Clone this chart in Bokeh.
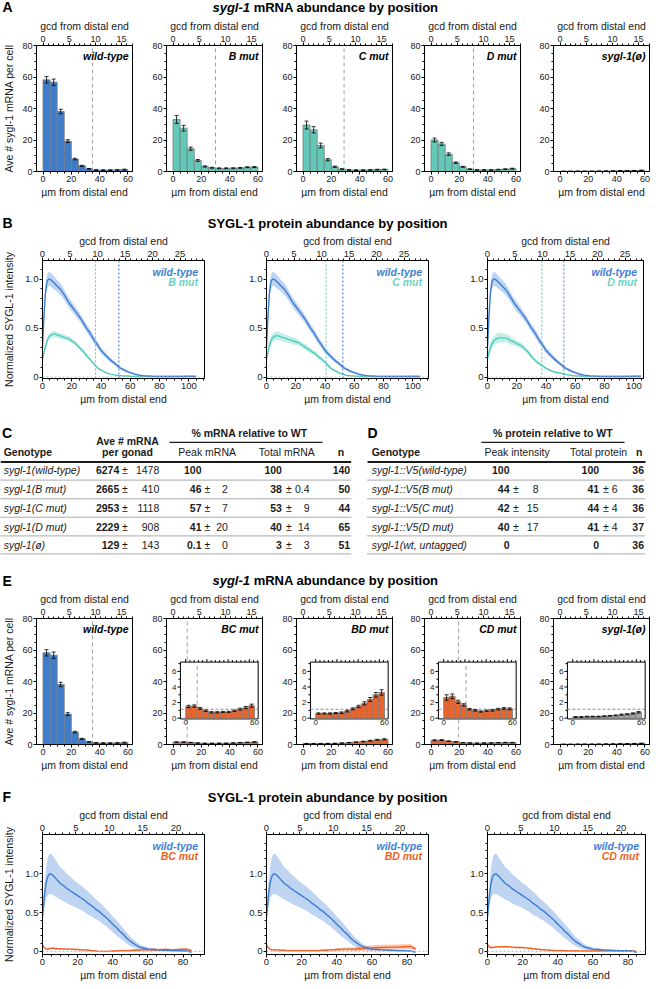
import math
from bokeh.plotting import figure
from bokeh.models import Range1d, LinearAxis, FixedTicker, Label, Span
from bokeh.layouts import column, row
from bokeh.embed import file_html
from bokeh.resources import INLINE
from bokeh.core.properties import value

FONT = "Liberation Sans"
INK = "#1a1a1a"

# ============================ DATA ============================
# Panels A / E : average sygl-1 mRNA per cell in 5-um bins
bin_um = [2.5, 7.5, 12.5, 17.5, 22.5, 27.5, 32.5, 37.5, 42.5, 47.5, 52.5, 57.5]
mrna_wt = [58.2, 56.7, 38.1, 19.3, 7.9, 3.6, 1.7, 1.0, 0.9, 0.9, 1.0, 1.2]
mrna_wt_err = [2.0, 2.0, 1.4, 0.9, 0.5, 0.3, 0.2, 0.2, 0.2, 0.2, 0.2, 0.3]
mrna_B = [33.0, 27.5, 14.5, 7.0, 3.2, 2.4, 2.0, 2.0, 2.1, 2.3, 2.7, 2.8]
mrna_B_err = [2.5, 1.8, 1.0, 0.6, 0.4, 0.3, 0.3, 0.3, 0.3, 0.3, 0.3, 0.3]
mrna_C = [29.5, 26.5, 16.5, 7.5, 3.0, 1.5, 1.0, 0.9, 0.9, 1.0, 1.2, 1.3]
mrna_C_err = [2.5, 2.0, 1.5, 0.7, 0.4, 0.3, 0.2, 0.2, 0.2, 0.2, 0.2, 0.2]
mrna_D = [20.0, 17.5, 11.0, 5.6, 3.0, 1.5, 1.0, 1.0, 1.0, 1.2, 1.5, 1.8]
mrna_D_err = [1.2, 1.0, 0.8, 0.5, 0.3, 0.2, 0.2, 0.2, 0.2, 0.2, 0.2, 0.3]
mrna_null = [0.15, 0.15, 0.2, 0.2, 0.2, 0.25, 0.3, 0.35, 0.45, 0.5, 0.6, 0.75]
mrna_null_err = [0.05, 0.05, 0.05, 0.05, 0.05, 0.05, 0.05, 0.06, 0.07, 0.07, 0.08, 0.1]
mrna_BC = [1.5, 1.55, 1.25, 0.95, 0.75, 0.75, 0.8, 0.8, 0.95, 1.15, 1.35, 1.6]
mrna_BC_err = [0.15, 0.15, 0.12, 0.1, 0.08, 0.08, 0.08, 0.08, 0.1, 0.12, 0.15, 0.2]
mrna_BD = [0.6, 0.6, 0.6, 0.65, 0.7, 0.9, 1.2, 1.5, 1.9, 2.4, 3.0, 3.3]
mrna_BD_err = [0.08, 0.08, 0.08, 0.08, 0.1, 0.1, 0.12, 0.15, 0.2, 0.25, 0.3, 0.35]
mrna_CD = [2.65, 2.8, 2.1, 1.7, 1.15, 1.0, 0.85, 0.95, 1.0, 1.15, 1.25, 1.2]
mrna_CD_err = [0.35, 0.3, 0.2, 0.15, 0.1, 0.1, 0.08, 0.08, 0.1, 0.1, 0.12, 0.12]

a_tags = ["wild-type", "B mut", "C mut", "D mut", "sygl-1(\u00f8)"]
a_boundary = [35.0, 30.0, 29.0, 30.0, None]
e_tags = ["wild-type", "BC mut", "BD mut", "CD mut", "sygl-1(\u00f8)"]
e_boundary = [35.0, 10.0, None, 19.5, None]
inset_level = 1.15

count_ticks = [0, 20, 40, 60, 80]
um_ticks_A = [0, 20, 40, 60]
gcd_ticks_A = [0, 5, 10, 15]
inset_yticks = [0, 2, 4, 6]
inset_xlabels = [0, 60]

# Panel B : SYGL-1 protein, normalized intensity
prot_x_B = [0, 1, 2, 3, 4, 5, 6, 8, 10, 12, 14, 16, 18, 20, 22, 24, 26, 28, 30, 32, 34, 36,
            38, 40, 42, 44, 46, 48, 50, 52, 54, 56, 58, 60, 63, 66, 70, 75, 80, 85, 90, 95, 100, 105]
prot_wt_B = [0.30, 0.62, 0.86, 0.97, 1.00, 1.00, 0.99,
             0.96, 0.93, 0.90, 0.86, 0.81, 0.76, 0.72, 0.68, 0.64, 0.60,
             0.55, 0.50, 0.46, 0.41, 0.36, 0.32, 0.27, 0.24, 0.21, 0.18,
             0.155, 0.13, 0.105, 0.085, 0.07, 0.055, 0.045,
             0.03, 0.02, 0.012, 0.008, 0.006, 0.005, 0.005, 0.006, 0.007, 0.005]
prot_wt_B_sd = [0.05, 0.06, 0.07, 0.07, 0.07, 0.07, 0.07,
                0.065, 0.06, 0.06, 0.055, 0.05, 0.05, 0.05, 0.045, 0.045, 0.04,
                0.04, 0.04, 0.04, 0.04, 0.035, 0.035, 0.03, 0.03, 0.025, 0.025,
                0.02, 0.02, 0.02, 0.015, 0.015, 0.012, 0.01,
                0.008, 0.006, 0.005, 0.004, 0.004, 0.004, 0.004, 0.005, 0.006, 0.005]
prot_Bmut = [0.18, 0.25, 0.31, 0.36, 0.40, 0.42, 0.43,
             0.44, 0.43, 0.42, 0.41, 0.40, 0.39, 0.37, 0.35, 0.32, 0.29,
             0.26, 0.22, 0.19, 0.15, 0.12, 0.09, 0.07, 0.055, 0.04, 0.03,
             0.025, 0.02, 0.015, 0.012, 0.01, 0.01, 0.008,
             0.007, 0.006, 0.005, 0.005, 0.005, 0.005, 0.005, 0.006, 0.008, 0.007]
prot_Bmut_sd = [0.02, 0.025, 0.03, 0.03, 0.03, 0.03, 0.03,
                0.03, 0.03, 0.03, 0.03, 0.025, 0.025, 0.025, 0.02, 0.02, 0.02,
                0.02, 0.02, 0.015, 0.015, 0.012, 0.01, 0.01, 0.008, 0.006, 0.005,
                0.005, 0.004, 0.004, 0.004, 0.004, 0.004, 0.004,
                0.004, 0.004, 0.004, 0.004, 0.004, 0.004, 0.005, 0.005, 0.006, 0.006]
prot_Cmut = [0.18, 0.26, 0.32, 0.37, 0.40, 0.41, 0.42,
             0.42, 0.41, 0.40, 0.39, 0.38, 0.37, 0.36, 0.35, 0.33, 0.31,
             0.29, 0.27, 0.25, 0.23, 0.20, 0.18, 0.15, 0.12, 0.09, 0.07,
             0.055, 0.04, 0.03, 0.02, 0.015, 0.012, 0.01,
             0.008, 0.006, 0.005, 0.005, 0.005, 0.005, 0.005, 0.006, 0.007, 0.006]
prot_Cmut_sd = [0.03, 0.035, 0.04, 0.045, 0.045, 0.045, 0.045,
                0.045, 0.04, 0.04, 0.04, 0.035, 0.035, 0.035, 0.03, 0.03, 0.03,
                0.03, 0.03, 0.025, 0.025, 0.02, 0.02, 0.02, 0.015, 0.015, 0.01,
                0.01, 0.008, 0.006, 0.005, 0.005, 0.005, 0.005,
                0.004, 0.004, 0.004, 0.004, 0.004, 0.004, 0.005, 0.005, 0.006, 0.006]
prot_Dmut = [0.19, 0.25, 0.30, 0.34, 0.36, 0.38, 0.39,
             0.40, 0.40, 0.40, 0.39, 0.37, 0.36, 0.34, 0.33, 0.31, 0.28,
             0.25, 0.21, 0.18, 0.15, 0.13, 0.11, 0.09, 0.075, 0.06, 0.05,
             0.045, 0.04, 0.03, 0.025, 0.02, 0.015, 0.012,
             0.01, 0.008, 0.006, 0.005, 0.005, 0.005, 0.005, 0.006, 0.008, 0.008]
prot_Dmut_sd = [0.03, 0.04, 0.05, 0.05, 0.05, 0.05, 0.05,
                0.05, 0.05, 0.045, 0.04, 0.04, 0.035, 0.03, 0.03, 0.03, 0.025,
                0.025, 0.02, 0.02, 0.02, 0.015, 0.015, 0.012, 0.01, 0.01, 0.008,
                0.008, 0.006, 0.006, 0.005, 0.005, 0.005, 0.005,
                0.005, 0.005, 0.005, 0.005, 0.005, 0.005, 0.005, 0.006, 0.006, 0.006]
b_mut_names = ["B mut", "C mut", "D mut"]
b_wt_boundary = 52.2
b_mut_boundary = [36.2, 40.7, 37.1]

# Panel F : SYGL-1 protein, double mutants
prot_x_F = [0, 1, 2, 3, 4, 5, 6, 8, 10, 12, 14, 16, 18, 20, 22, 24, 26, 28, 30, 32, 34, 36,
            38, 40, 42, 44, 46, 48, 50, 52, 54, 56, 58, 60, 63, 66, 70, 74, 78, 82, 85]
prot_wt_F = [0.45, 0.70, 0.88, 0.97, 1.00, 1.00, 0.98,
             0.93, 0.88, 0.85, 0.81, 0.78, 0.75, 0.72, 0.69, 0.66, 0.62,
             0.59, 0.55, 0.52, 0.48, 0.44, 0.40, 0.35, 0.31, 0.26, 0.22,
             0.17, 0.13, 0.10, 0.07, 0.05, 0.04, 0.03,
             0.025, 0.02, 0.015, 0.01, 0.008, 0.005, -0.01]
prot_wt_F_sd = [0.08, 0.15, 0.20, 0.24, 0.26, 0.26, 0.25,
                0.23, 0.21, 0.20, 0.19, 0.18, 0.17, 0.16, 0.16, 0.15, 0.15,
                0.14, 0.13, 0.12, 0.12, 0.11, 0.11, 0.10, 0.10, 0.09, 0.08,
                0.07, 0.06, 0.05, 0.04, 0.03, 0.025, 0.02,
                0.015, 0.012, 0.01, 0.01, 0.01, 0.01, 0.01]
prot_BC = [0.08, 0.05, 0.03, 0.03, 0.035, 0.04, 0.04,
           0.035, 0.035, 0.03, 0.03, 0.03, 0.025, 0.025, 0.02, 0.02, 0.015,
           0.01, 0.005, 0.0, 0.0, 0.0, 0.0, 0.005, 0.005, 0.01, 0.01,
           0.01, 0.01, 0.015, 0.015, 0.02, 0.02, 0.02,
           0.025, 0.02, 0.025, 0.02, 0.025, 0.03, 0.01]
prot_BC_sd = [0.01, 0.01, 0.01, 0.01, 0.01, 0.01, 0.01,
              0.01, 0.01, 0.01, 0.01, 0.01, 0.01, 0.01, 0.01, 0.01, 0.01,
              0.01, 0.01, 0.01, 0.01, 0.01, 0.01, 0.01, 0.01, 0.01, 0.01,
              0.012, 0.012, 0.012, 0.012, 0.015, 0.015, 0.015,
              0.015, 0.015, 0.015, 0.015, 0.015, 0.015, 0.01]
prot_BD = [0.08, 0.05, 0.03, 0.02, 0.02, 0.02, 0.02,
           0.015, 0.015, 0.01, 0.01, 0.01, 0.01, 0.01, 0.01, 0.01, 0.01,
           0.01, 0.01, 0.015, 0.015, 0.02, 0.02, 0.025, 0.025, 0.03, 0.03,
           0.03, 0.03, 0.035, 0.035, 0.04, 0.04, 0.045,
           0.05, 0.05, 0.055, 0.055, 0.06, 0.065, 0.03]
prot_BD_sd = [0.01, 0.01, 0.01, 0.01, 0.01, 0.01, 0.01,
              0.01, 0.01, 0.01, 0.01, 0.01, 0.01, 0.01, 0.01, 0.01, 0.01,
              0.01, 0.012, 0.012, 0.015, 0.015, 0.015, 0.02, 0.02, 0.02, 0.02,
              0.025, 0.025, 0.03, 0.03, 0.03, 0.035, 0.035,
              0.035, 0.035, 0.035, 0.035, 0.035, 0.035, 0.02]
prot_CD = [0.09, 0.06, 0.05, 0.05, 0.055, 0.06, 0.06,
           0.06, 0.06, 0.06, 0.055, 0.05, 0.05, 0.05, 0.045, 0.04, 0.035,
           0.03, 0.025, 0.02, 0.02, 0.015, 0.012, 0.01, 0.01, 0.008, 0.006,
           0.005, 0.005, 0.005, 0.005, 0.005, 0.005, 0.005,
           0.005, 0.005, 0.005, 0.005, 0.005, 0.005, 0.0]
prot_CD_sd = [0.01, 0.01, 0.01, 0.01, 0.01, 0.01, 0.01,
              0.01, 0.01, 0.01, 0.01, 0.01, 0.01, 0.01, 0.01, 0.01, 0.01,
              0.01, 0.01, 0.01, 0.01, 0.01, 0.01, 0.01, 0.01, 0.01, 0.01,
              0.01, 0.01, 0.01, 0.01, 0.01, 0.01, 0.01,
              0.01, 0.01, 0.01, 0.01, 0.01, 0.01, 0.01]
f_mut_names = ["BC mut", "BD mut", "CD mut"]

prot_yticks = [0, 0.5, 1.0]
prot_ylabels = {0: "0", 0.5: "0.5", 1: "1.0"}

# Tables C and D
genotypes_C = ["sygl-1(wild-type)", "sygl-1(B mut)", "sygl-1(C mut)", "sygl-1(D mut)", "sygl-1(\u00f8)"]
mrna_per_gonad = ["6274", "2665", "2953", "2229", "129"]
mrna_per_gonad_sd = ["1478", "410", "1118", "908", "143"]
peak_mrna = ["100", "46", "57", "41", "0.1"]
peak_mrna_sd = [None, "2", "7", "20", "0"]
total_mrna = ["100", "38", "53", "40", "3"]
total_mrna_sd = [None, "0.4", "9", "14", "3"]
n_C = ["140", "50", "44", "65", "51"]

genotypes_D = ["sygl-1::V5(wild-type)", "sygl-1::V5(B mut)", "sygl-1::V5(C mut)",
               "sygl-1::V5(D mut)", "sygl-1(wt, untagged)"]
peak_int = ["100", "44", "42", "40", "0"]
peak_int_sd = [None, "8", "15", "17", None]
total_prot = ["100", "41", "44", "41", "0"]
total_prot_sd = [None, "6", "4", "4", None]
n_D = ["36", "36", "36", "37", "36"]

# ============================ STYLE ============================
WT_BAR = "#3F7DCA"
MUT_BAR = "#62C9B9"
DBL_BAR = "#E9632B"
NULL_BAR = "#A6A6A6"
BAR_EDGE = "#7C7C7C"
WT_LINE = "#3B7BD4"
MUT_LINE = "#4FCBB9"
ORG_LINE = "#EE6228"
WT_TXT = "#3F80D8"
MUT_TXT = "#6CD3C5"

BOLD_W = {' ': 278, 's': 556, 'y': 556, 'g': 611, 'l': 278, '-': 333, '1': 556, 'm': 889,
          'R': 722, 'N': 722, 'A': 722, 'a': 556, 'b': 611, 'u': 611, 'n': 611, 'd': 611,
          'c': 556, 'e': 556, 'p': 611, 'o': 611, 'i': 278, 't': 333}


def tw_bold(s):
    return sum(BOLD_W.get(c, 556) for c in s) / 1000.0


# ============================ LAYOUT ============================
PAGE_W = 650
TITLE_CX = 325
XA = (-4.6, 63.2)
YA = (0, 80)
GCD_A = 3.7
A_FW = 96
A_L = [34, 32, 32, 30, 31]
A_R = [2, 2, 2, 2, 3]
B_FW = [162, 162, 156]
B_L = [40, 60, 57]
B_R = [2, 2, 9]
B_XR = [(0, 110.7), (0, 110.7), (0, 106.6)]
B_YR = (-0.015, 1.19)
GCD_B = 3.76
F_FW = [162, 162, 158]
F_L = [40, 60, 57]
F_R = [2, 2, 7]
F_XR = [(0, 92.2), (0, 92.2), (0, 89.9)]
F_YR = (-0.04, 1.51)
GCD_F = 3.8

IN_L, IN_R, IN_B, IN_T = 0.145, 0.955, 0.203, 0.654
IN_X = (-4.6, 63.2)
IN_Y = (-0.1, 7.2)
_sx = (IN_X[1] - IN_X[0]) / (IN_R - IN_L)
IX = (IN_X[0] - IN_L * _sx, IN_X[0] - IN_L * _sx + _sx)
_sy = (IN_Y[1] - IN_Y[0]) / (IN_T - IN_B)
IY = (IN_Y[0] - IN_B * _sy, IN_Y[0] - IN_B * _sy + _sy)


def style_axes(p, tick_fs):
    for ax in list(p.below) + list(p.above) + list(p.left):
        ax.axis_line_color = "black"
        ax.axis_line_width = 1
        ax.major_tick_line_color = "black"
        ax.minor_tick_line_color = "black"
        ax.major_tick_in = 0
        ax.major_tick_out = 3
        ax.minor_tick_in = 0
        ax.minor_tick_out = 2
        ax.major_label_text_font = FONT
        ax.major_label_text_font_size = tick_fs
        ax.major_label_text_color = INK
        ax.major_label_standoff = 1
        ax.axis_label_text_font = FONT
        ax.axis_label_text_font_size = "10.5px"
        ax.axis_label_text_font_style = "normal"
        ax.axis_label_text_color = INK
        ax.axis_label_standoff = 1


def base_fig(fw, fh, L, R, top, bot, xr, yr):
    p = figure(frame_width=fw, frame_height=fh, min_border_left=L, min_border_right=R,
               min_border_top=top, min_border_bottom=bot,
               x_range=Range1d(*xr), y_range=Range1d(*yr),
               toolbar_location=None, output_backend="svg")
    p.grid.visible = False
    p.outline_line_color = "black"
    p.outline_line_width = 1
    p.background_fill_color = "white"
    p.border_fill_color = "white"
    return p


def frame_label(p, xr, yr, fw, fh, dx, dy, text, color, size="10.5px"):
    sx = fw / (xr[1] - xr[0])
    sy = fh / (yr[1] - yr[0])
    p.add_layout(Label(x=xr[1] - dx / sx, y=yr[1] - dy / sy, text=text, text_align="right",
                       text_baseline="middle", text_font=FONT, text_font_size=size,
                       text_font_style="bold italic", text_color=color))


def draw_bars(p, vals, errs, fill, **kw):
    p.vbar(x=bin_um, width=5, top=vals, bottom=0, fill_color=fill, line_color=BAR_EDGE,
           line_width=0.8, **kw)
    lo = [v - e for v, e in zip(vals, errs)]
    hi = [v + e for v, e in zip(vals, errs)]
    p.segment(x0=bin_um, x1=bin_um, y0=lo, y1=hi, line_color="black", line_width=0.8, **kw)
    p.scatter(x=bin_um + bin_um, y=lo + hi, marker="dash", size=4, line_color="black",
              line_width=0.8, **kw)


def add_inset(p, vals, errs, fill, boundary, fh):
    p.extra_x_ranges["ix"] = Range1d(*IX)
    p.extra_y_ranges = {"iy": Range1d(*IY)}
    kw = dict(x_range_name="ix", y_range_name="iy")
    sx = A_FW / (IX[1] - IX[0])
    sy = fh / (IY[1] - IY[0])
    p.quad(left=[IN_X[0]], right=[IN_X[1]], bottom=[IN_Y[0]], top=[IN_Y[1]],
           fill_color="white", line_color="black", line_width=1, **kw)
    p.segment(x0=[IN_X[0]], x1=[IN_X[1]], y0=[inset_level], y1=[inset_level],
              line_color="#8c8c8c", line_dash="3 2", line_width=1, **kw)
    if boundary is not None:
        p.segment(x0=[boundary], x1=[boundary], y0=[IN_Y[0]], y1=[IN_Y[1]],
                  line_color="#a0a0a0", line_dash="4 3", line_width=1, **kw)
    draw_bars(p, vals, errs, fill, **kw)
    p.segment(x0=[IN_X[0]] * len(inset_yticks), x1=[IN_X[0] - 3 / sx] * len(inset_yticks),
              y0=inset_yticks, y1=inset_yticks, line_color="black", line_width=1, **kw)
    minor = [t + 1 for t in inset_yticks]
    p.segment(x0=[IN_X[0]] * len(minor), x1=[IN_X[0] - 2 / sx] * len(minor),
              y0=minor, y1=minor, line_color="black", line_width=1, **kw)
    p.text(x=[IN_X[0] - 4 / sx] * len(inset_yticks), y=inset_yticks,
           text=[str(t) for t in inset_yticks], text_align="right", text_baseline="middle",
           text_font=value(FONT), text_font_size="8px", text_color=INK, **kw)
    p.text(x=inset_xlabels, y=[IN_Y[0] - 1.5 / sy] * len(inset_xlabels),
           text=[str(t) for t in inset_xlabels], text_align="center", text_baseline="top",
           text_font=value(FONT), text_font_size="8px", text_color=INK, **kw)
    gx, gy0, gy1 = [], [], []
    for g in range(0, 18):
        xv = g * GCD_A
        if xv > IN_X[1]:
            break
        gx.append(xv)
        gy0.append(IN_Y[1])
        gy1.append(IN_Y[1] + (3 if g % 5 == 0 else 2) / sy)
    p.segment(x0=gx, x1=gx, y0=gy0, y1=gy1, line_color="black", line_width=1, **kw)


def bar_panel(i, vals, errs, fill, tag, boundary, top_b, fh, bot_b, inset=None):
    p = base_fig(A_FW, fh, A_L[i], A_R[i], top_b, bot_b, XA, YA)
    p.extra_x_ranges = {"gcd": Range1d(XA[0] / GCD_A, XA[1] / GCD_A)}
    p.add_layout(LinearAxis(x_range_name="gcd", axis_label="gcd from distal end",
                            ticker=FixedTicker(ticks=gcd_ticks_A, minor_ticks=list(range(0, 18)))),
                 "above")
    bx = p.below[0]
    bx.ticker = FixedTicker(ticks=um_ticks_A, minor_ticks=list(range(0, 65, 5)))
    bx.axis_label = "\u00b5m from distal end"
    ly = p.left[0]
    ly.ticker = FixedTicker(ticks=count_ticks, minor_ticks=list(range(0, 85, 5)))
    style_axes(p, "9px")
    if i == 0:
        ly.axis_label = "Ave # sygl-1 mRNA per cell"
        ly.axis_label_standoff = 4
    if boundary is not None:
        p.segment(x0=[boundary], x1=[boundary], y0=[YA[0]], y1=[YA[1]],
                  line_color="#a0a0a0", line_dash="4 3", line_width=1)
    draw_bars(p, vals, errs, fill)
    frame_label(p, XA, YA, A_FW, fh, 4, 10, tag, "black")
    if inset is not None:
        add_inset(p, inset[0], inset[1], inset[2], boundary, fh)
    return p


def prot_panel(i, x, curves, names, colors_txt, xr, yr, gcd_f, fws, Ls, Rs, top_b, fh, bot_b,
               xticks, gticks, yminor_top, bounds):
    fw = fws[i]
    p = base_fig(fw, fh, Ls[i], Rs[i], top_b, bot_b, xr, yr)
    p.extra_x_ranges = {"gcd": Range1d(xr[0] / gcd_f, xr[1] / gcd_f)}
    p.add_layout(LinearAxis(x_range_name="gcd", axis_label="gcd from distal end",
                            ticker=FixedTicker(ticks=gticks,
                                               minor_ticks=list(range(0, int(xr[1] / gcd_f) + 1)))),
                 "above")
    bx = p.below[0]
    bx.ticker = FixedTicker(ticks=xticks, minor_ticks=list(range(0, int(xr[1]) + 1, 5)))
    bx.axis_label = "\u00b5m from distal end"
    ly = p.left[0]
    ly.ticker = FixedTicker(ticks=prot_yticks,
                            minor_ticks=[round(0.1 * k, 1) for k in range(0, yminor_top + 1)])
    ly.major_label_overrides = prot_ylabels
    style_axes(p, "9.5px")
    if i == 0:
        ly.axis_label = "Normalized SYGL-1 intensity"
        ly.axis_label_standoff = 7
    p.add_layout(Span(location=0, dimension="width", line_color="#bdbdbd", line_dash="2 2",
                      line_width=1))
    for loc, col in bounds:
        p.add_layout(Span(location=loc, dimension="height", line_color=col, line_dash="2 2",
                          line_width=1))
    for m, sd, lc in curves:
        p.varea(x=x, y1=[a - b for a, b in zip(m, sd)], y2=[a + b for a, b in zip(m, sd)],
                fill_color=lc, fill_alpha=0.33)
    for m, sd, lc in reversed(curves):
        p.line(x=x, y=m, line_color=lc, line_width=1.4)
    frame_label(p, xr, yr, fw, fh, 6.5, 11, names[0], colors_txt[0])
    frame_label(p, xr, yr, fw, fh, 6.5, 21.5, names[1], colors_txt[1])
    return p


def header(h, letter, y_mid, parts):
    p = figure(width=PAGE_W, height=h, x_range=Range1d(0, PAGE_W), y_range=Range1d(h, 0),
               x_axis_type=None, y_axis_type=None, toolbar_location=None,
               output_backend="svg", min_border=0)
    p.outline_line_color = None
    p.text(x=[2], y=[y_mid], text=[letter], text_font=value(FONT), text_font_size="14px",
           text_font_style="bold", text_baseline="middle", text_align="left", text_color="black")
    fs = 13
    widths = [tw_bold(t) * fs for t, st in parts]
    gap = 0.278 * fs
    total = sum(widths) + gap * (len(parts) - 1)
    x = TITLE_CX - total / 2
    for (t, st), w in zip(parts, widths):
        p.text(x=[x], y=[y_mid], text=[t], text_font=value(FONT), text_font_size=f"{fs}px",
               text_font_style=st, text_baseline="middle", text_align="left", text_color="black")
        x += w + gap
    return p


# ---------------- panel A ----------------
a_data = [(mrna_wt, mrna_wt_err, WT_BAR), (mrna_B, mrna_B_err, MUT_BAR),
          (mrna_C, mrna_C_err, MUT_BAR), (mrna_D, mrna_D_err, MUT_BAR),
          (mrna_null, mrna_null_err, NULL_BAR)]
a_figs = [bar_panel(i, v, e, c, a_tags[i], a_boundary[i], 28, 126, 27)
          for i, (v, e, c) in enumerate(a_data)]

# ---------------- panel B ----------------
b_mut = [(prot_Bmut, prot_Bmut_sd), (prot_Cmut, prot_Cmut_sd), (prot_Dmut, prot_Dmut_sd)]
b_figs = []
for i, (m, sd) in enumerate(b_mut):
    b_figs.append(prot_panel(i, prot_x_B, [(prot_wt_B, prot_wt_B_sd, WT_LINE), (m, sd, MUT_LINE)],
                             ["wild-type", b_mut_names[i]], [WT_TXT, MUT_TXT], B_XR[i], B_YR, GCD_B,
                             B_FW, B_L, B_R, 28, 118, 29, [0, 20, 40, 60, 80, 100],
                             [0, 5, 10, 15, 20, 25], 11,
                             [(b_mut_boundary[i], MUT_LINE), (b_wt_boundary, WT_LINE)]))

# ---------------- tables C / D ----------------
T_H = 149
T_FS = 10.5
tab = figure(width=PAGE_W, height=T_H, x_range=Range1d(0, PAGE_W), y_range=Range1d(T_H, 0),
             x_axis_type=None, y_axis_type=None, toolbar_location=None, output_backend="svg",
             min_border=0)
tab.outline_line_color = None
ROW_Y = [62.7, 81.8, 100.5, 119.2, 137.5]
SEP_Y = [72.6, 91.3, 109.7, 128.4, 146.4]


def ttext(xs, ys, texts, align, style, size=T_FS, color=INK):
    tab.text(x=xs, y=ys, text=texts, text_align=align, text_baseline="middle",
             text_font=value(FONT), text_font_size=f"{size}px", text_font_style=style,
             text_color=color)


def value_col(means, sds, x_mean, x_pm, x_sd):
    ttext([x_mean] * len(means), ROW_Y, means, "right", "bold")
    ys = [y for y, s in zip(ROW_Y, sds) if s is not None]
    ss = [s for s in sds if s is not None]
    ttext([x_pm] * len(ys), ys, ["\u00b1"] * len(ys), "center", "normal")
    ttext([x_sd] * len(ys), ys, ss, "right", "normal")


# table C
ttext([1.5], [25], ["C"], "left", "bold", 14, "black")
ttext([249], [25.6], ["% mRNA relative to WT"], "center", "bold")
tab.segment(x0=[169], x1=[322], y0=[34.9], y1=[34.9], line_color=INK, line_width=1.2)
ttext([127], [33.9], ["Ave # mRNA"], "center", "bold")
ttext([127], [44.7], ["per gonad"], "center", "bold")
ttext([3.2], [44.7], ["Genotype"], "left", "bold")
ttext([206.6, 286.3], [44.7, 44.7], ["Peak mRNA", "Total mRNA"], "center", "normal")
ttext([340.5], [44.7], ["n"], "center", "bold")
tab.segment(x0=[0], x1=[350.7], y0=[54.6], y1=[54.6], line_color=INK, line_width=2)
tab.segment(x0=[0] * 5, x1=[350.7] * 5, y0=SEP_Y, y1=SEP_Y, line_color="#555555",
            line_dash="1 1", line_width=1)
ttext([3.2] * 5, ROW_Y, genotypes_C, "left", "italic")
value_col(mrna_per_gonad, mrna_per_gonad_sd, 118.8, 124.5, 158.8)
value_col(peak_mrna, peak_mrna_sd, 201, 207, 227.4)
value_col(total_mrna, total_mrna_sd, 281.4, 288.3, 309.1)
ttext([349.7] * 5, ROW_Y, n_C, "right", "bold")

# table D
ttext([367], [25], ["D"], "left", "bold", 14, "black")
ttext([552.4], [25.6], ["% protein relative to WT"], "center", "bold")
tab.segment(x0=[480.9], x1=[624], y0=[34.9], y1=[34.9], line_color=INK, line_width=1.2)
ttext([371.2], [44.7], ["Genotype"], "left", "bold")
ttext([516.6, 598], [44.7, 44.7], ["Peak intensity", "Total protein"], "center", "normal")
ttext([638.6], [44.7], ["n"], "center", "bold")
tab.segment(x0=[367], x1=[645], y0=[54.6], y1=[54.6], line_color=INK, line_width=2)
tab.segment(x0=[367] * 5, x1=[645] * 5, y0=SEP_Y, y1=SEP_Y, line_color="#555555",
            line_dash="1 1", line_width=1)
ttext([371.2] * 5, ROW_Y, genotypes_D, "left", "italic")
value_col(peak_int, peak_int_sd, 509, 515.5, 538)
value_col(total_prot, total_prot_sd, 598.6, 605.3, 617)
ttext([643.5] * 5, ROW_Y, n_D, "right", "bold")

# ---------------- panel E ----------------
e_data = [(mrna_wt, mrna_wt_err, WT_BAR), (mrna_BC, mrna_BC_err, DBL_BAR),
          (mrna_BD, mrna_BD_err, DBL_BAR), (mrna_CD, mrna_CD_err, DBL_BAR),
          (mrna_null, mrna_null_err, NULL_BAR)]
e_figs = []
for i, (v, e, c) in enumerate(e_data):
    inset = None if i == 0 else (v, e, c)
    e_figs.append(bar_panel(i, v, e, c, e_tags[i], e_boundary[i], 28, 126, 26, inset))

# ---------------- panel F ----------------
f_mut = [(prot_BC, prot_BC_sd), (prot_BD, prot_BD_sd), (prot_CD, prot_CD_sd)]
f_figs = []
for i, (m, sd) in enumerate(f_mut):
    f_figs.append(prot_panel(i, prot_x_F, [(prot_wt_F, prot_wt_F_sd, WT_LINE), (m, sd, ORG_LINE)],
                             ["wild-type", f_mut_names[i]], [WT_TXT, ORG_LINE], F_XR[i], F_YR, GCD_F,
                             F_FW, F_L, F_R, 28, 120, 28, [0, 20, 40, 60, 80],
                             [0, 5, 10, 15, 20], 14, []))

title_mrna = [("sygl-1", "bold italic"), ("mRNA abundance by position", "bold")]
title_prot = [("SYGL-1 protein abundance by position", "bold")]

page = column(
    header(16, "A", 6.9, title_mrna),
    row(*a_figs),
    header(31, "B", 22.5, title_prot),
    row(*b_figs),
    tab,
    header(33, "E", 24.3, title_mrna),
    row(*e_figs),
    header(32, "F", 23.9, title_prot),
    row(*f_figs),
)

open("out.html", "w").write(file_html(page, INLINE))
